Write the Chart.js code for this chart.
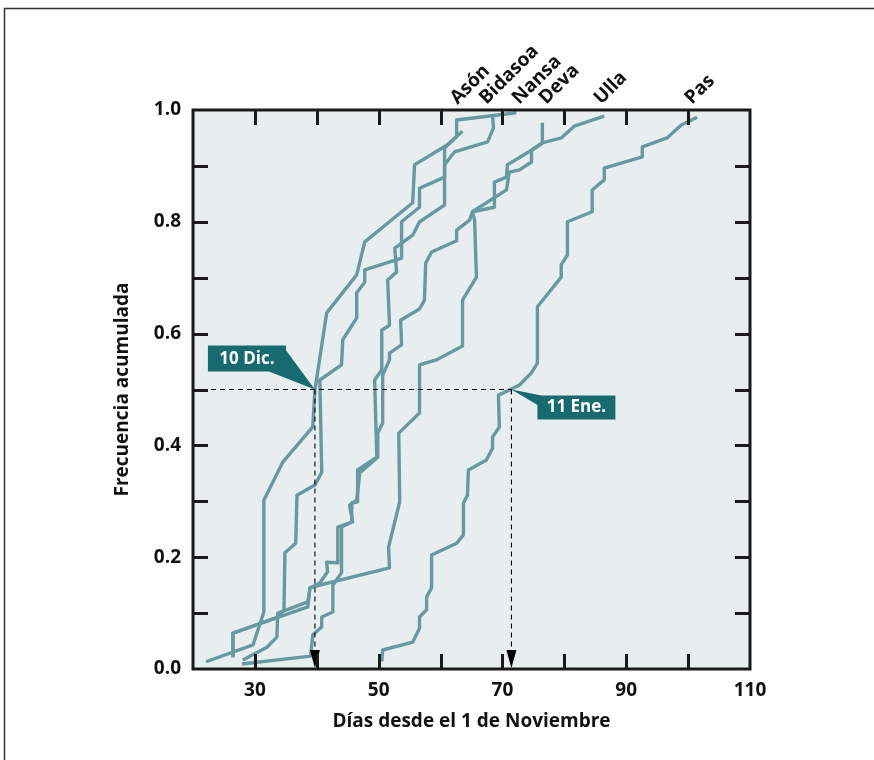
<!DOCTYPE html>
<html><head><meta charset="utf-8">
<script src="https://cdn.jsdelivr.net/npm/chart.js@4.4.1/dist/chart.umd.min.js"></script>
<style>html,body{margin:0;padding:0;background:#fff;}canvas{display:block;}</style>
</head><body>
<canvas id="c" width="874" height="760"></canvas>
<script>
// ---- data ----
const seriesNames = ['Asón','Bidasoa','Nansa','Deva','Ulla','Pas'];
const asonDays = [22.1,29.7,31.45,31.45,34.5,39.35,39.7,41.6,46.45,47.75,55.5,55.8,61.0,63.55];
const asonFreq = [0.013,0.043,0.102,0.302,0.370,0.433,0.499,0.637,0.705,0.764,0.834,0.902,0.937,0.962];
const bidasoaDays = [26.45,26.45,33.7,34.7,34.85,36.6,36.8,39.7,40.8,40.5,44.0,44.2,46.45,46.45,47.75,47.75,53.7,53.7,56.6,56.6,60.65,60.65,62.25,67.6,68.55,68.4];
const bidasoaFreq = [0.021,0.064,0.093,0.106,0.208,0.225,0.311,0.329,0.352,0.517,0.544,0.589,0.628,0.673,0.692,0.714,0.735,0.800,0.826,0.860,0.880,0.902,0.925,0.943,0.968,0.991];
const nansaDays = [27.9,39.0,39.35,40.8,40.8,42.6,42.6,44.0,44.0,45.65,45.65,46.6,46.6,49.7,49.35,50.5,50.5,51.75,51.45,52.9,52.6,55.5,56.6,60.65,60.65,62.6,62.6,72.25];
const nansaFreq = [0.009,0.023,0.061,0.075,0.093,0.102,0.150,0.172,0.254,0.263,0.297,0.299,0.356,0.379,0.517,0.535,0.606,0.615,0.696,0.710,0.753,0.776,0.800,0.830,0.932,0.952,0.982,0.995];
const devaDays = [28.05,31.95,33.55,33.7,38.55,38.9,39.7,51.75,51.6,53.4,53.25,56.6,56.6,59.35,63.55,63.55,65.8,65.5,65.15,68.7,68.7,70.65,70.8,74.7,76.45,76.45];
const devaFreq = [0.016,0.039,0.057,0.100,0.120,0.145,0.148,0.181,0.218,0.299,0.422,0.458,0.544,0.553,0.578,0.660,0.701,0.803,0.818,0.826,0.871,0.880,0.902,0.928,0.941,0.977];
const ullaDays = [26.45,26.45,38.55,38.9,40.5,41.75,41.6,43.4,43.4,45.8,45.3,46.45,46.95,49.85,49.85,50.65,50.65,51.75,51.75,53.7,53.55,56.6,57.4,57.6,58.55,62.6,62.6,64.7,65.15,70.65,71.1,72.75,74.7,74.7,76.45,79.5,81.6,86.45];
const ullaFreq = [0.021,0.064,0.111,0.145,0.154,0.174,0.191,0.190,0.254,0.263,0.293,0.302,0.351,0.379,0.422,0.440,0.526,0.553,0.565,0.580,0.624,0.644,0.660,0.726,0.746,0.766,0.785,0.803,0.818,0.857,0.889,0.893,0.907,0.928,0.941,0.950,0.971,0.989];
const pasDays = [50.5,50.65,55.5,56.6,56.6,57.75,57.75,58.55,58.55,62.6,63.7,63.7,64.35,64.5,67.4,68.4,68.4,69.5,69.35,71.45,72.75,74.7,75.65,75.65,79.5,79.5,80.5,80.5,84.5,84.5,86.45,86.45,92.6,92.6,96.6,98.9,101.45];
const pasFreq = [0.013,0.034,0.048,0.073,0.093,0.106,0.129,0.145,0.204,0.225,0.240,0.297,0.311,0.356,0.374,0.395,0.415,0.433,0.490,0.501,0.508,0.530,0.547,0.648,0.701,0.723,0.741,0.800,0.818,0.857,0.875,0.896,0.916,0.934,0.950,0.973,0.987];
const xTickLabels = [30,50,70,90,110];
const yTickLabels = ['0.0','0.2','0.4','0.6','0.8','1.0'];
const medianFreq = 0.5;
const medianDays = [39.7, 71.45];
const medianLabels = ['10 Dic.','11 Ene.'];
const xTitle = 'Días desde el 1 de Noviembre';
const yTitle = 'Frecuencia acumulada';

// ---- styles ----
const LINE = '#6799a3';
const BG = '#e8eeef';
const BOX = '#186a71';
const INK = '#111';
const FONT = "'Open Sans', 'DejaVu Sans', sans-serif";
const FS = 19;

const allDays = [asonDays,bidasoaDays,nansaDays,devaDays,ullaDays,pasDays];
const allFreq = [asonFreq,bidasoaFreq,nansaFreq,devaFreq,ullaFreq,pasFreq];
const datasets = seriesNames.map((n,i)=>({
  label:n,
  data: allDays[i].map((d,j)=>({x:d,y:allFreq[i][j]})),
  showLine:true, borderColor:LINE, backgroundColor:LINE, borderWidth:3.4,
  pointRadius:0, tension:0, borderJoinStyle:'round', borderCapStyle:'butt'
}));

const deco = {
  id:'deco',
  beforeDraw(chart){
    const {ctx, chartArea:a} = chart;
    ctx.save();
    ctx.fillStyle='#fff'; ctx.fillRect(0,0,chart.width,chart.height);
    ctx.strokeStyle='#333'; ctx.lineWidth=1.5;
    ctx.beginPath(); ctx.moveTo(4.5,chart.height); ctx.lineTo(4.5,8.5); ctx.lineTo(chart.width,8.5); ctx.stroke();
    ctx.fillStyle=BG; ctx.fillRect(a.left,a.top,a.right-a.left,a.bottom-a.top);
    ctx.restore();
  },
  afterDatasetsDraw(chart){
    const {ctx, chartArea:a, scales:{x,y}} = chart;
    ctx.save();
    // dashed median guides
    const py = y.getPixelForValue(medianFreq);
    ctx.strokeStyle='#000'; ctx.lineWidth=1.1; ctx.setLineDash([5,4]);
    const xEnd = x.getPixelForValue(medianDays[medianDays.length-1]);
    ctx.beginPath(); ctx.moveTo(a.left,py); ctx.lineTo(xEnd,py); ctx.stroke();
    medianDays.forEach(d=>{
      const px = x.getPixelForValue(d);
      ctx.beginPath(); ctx.moveTo(px,py); ctx.lineTo(px,a.bottom-16); ctx.stroke();
    });
    ctx.setLineDash([]);
    ctx.fillStyle='#000';
    medianDays.forEach(d=>{
      const px = x.getPixelForValue(d);
      ctx.beginPath(); ctx.moveTo(px-5,a.bottom-19); ctx.lineTo(px+5,a.bottom-19); ctx.lineTo(px,a.bottom-1); ctx.closePath(); ctx.fill();
    });
    // label boxes
    const p1 = {x:x.getPixelForValue(medianDays[0]), y:py};
    const p2 = {x:x.getPixelForValue(medianDays[1]), y:py};
    ctx.fillStyle=BOX;
    ctx.beginPath(); ctx.moveTo(p1.x-31,p1.y-42); ctx.lineTo(p1.x-46,p1.y-18); ctx.lineTo(p1.x,p1.y); ctx.closePath(); ctx.fill();
    ctx.fillRect(p1.x-107,p1.y-44,78,26);
    ctx.beginPath(); ctx.moveTo(p2.x,p2.y); ctx.lineTo(p2.x+30,p2.y+6); ctx.lineTo(p2.x+27,p2.y+16); ctx.closePath(); ctx.fill();
    ctx.fillRect(p2.x+26,p2.y+6,78,24);
    ctx.fillStyle='#fff'; ctx.font='bold 17px '+FONT; ctx.textAlign='center'; ctx.textBaseline='middle';
    ctx.fillText(medianLabels[0], p1.x-68, p1.y-30);
    ctx.fillText(medianLabels[1], p2.x+65, p2.y+18);
    // frame and inward ticks
    ctx.strokeStyle='#1a1a1a'; ctx.lineWidth=3;
    ctx.strokeRect(a.left,a.top,a.right-a.left,a.bottom-a.top);
    x.ticks.forEach(t=>{
      if (t.value<=x.min || t.value>=x.max) return;
      const px = Math.round(x.getPixelForValue(t.value))+0.5;
      ctx.beginPath(); ctx.moveTo(px,a.bottom); ctx.lineTo(px,a.bottom-15);
      ctx.moveTo(px,a.top); ctx.lineTo(px,a.top+15); ctx.stroke();
    });
    y.ticks.forEach(t=>{
      if (t.value<=y.min+1e-9 || t.value>=y.max-1e-9) return;
      const pyy = Math.round(y.getPixelForValue(t.value))+0.5;
      ctx.beginPath(); ctx.moveTo(a.left,pyy); ctx.lineTo(a.left+15,pyy);
      ctx.moveTo(a.right,pyy); ctx.lineTo(a.right-15,pyy); ctx.stroke();
    });
    // series names at line ends
    const nudge = [-5,-6,3,4,-3,-5];
    ctx.fillStyle=INK; ctx.font='bold '+FS+'px '+FONT; ctx.textAlign='left'; ctx.textBaseline='alphabetic';
    chart.data.datasets.forEach((ds,i)=>{
      const last = ds.data[ds.data.length-1];
      const px = x.getPixelForValue(last.x)+nudge[i];
      ctx.save(); ctx.translate(px, a.top-5); ctx.rotate(-Math.PI/4);
      ctx.fillText(ds.label,0,0); ctx.restore();
    });
    ctx.restore();
  }
};

new Chart(document.getElementById('c'), {
  type:'scatter',
  data:{datasets},
  options:{
    responsive:false, animation:false, devicePixelRatio:1,
    layout:{padding:{left:100,top:110,right:124,bottom:21}},
    plugins:{legend:{display:false}, tooltip:{enabled:false}},
    scales:{
      x:{type:'linear', min:20, max:110,
        afterFit(s){ s.height=70; },
        grid:{display:false, drawTicks:false}, border:{display:false},
        ticks:{stepSize:10, padding:10, color:INK, font:{family:FONT, size:FS, weight:'bold'},
          callback:v=> xTickLabels.includes(Math.round(v)) ? String(Math.round(v)) : ''},
        title:{display:true, text:xTitle, color:INK, font:{family:FONT, size:FS, weight:'bold'}, padding:{top:0,bottom:6}}
      },
      y:{type:'linear', min:0, max:1,
        afterFit(s){ s.width=93; },
        grid:{display:false, drawTicks:false}, border:{display:false},
        ticks:{stepSize:0.1, padding:12, color:INK, font:{family:FONT, size:FS, weight:'bold'},
          callback:v=>{ const k=Math.round(v*10); return k%2===0 ? yTickLabels[k/2] : ''; }},
        title:{display:true, text:yTitle, color:INK, font:{family:FONT, size:FS, weight:'bold'}, padding:{top:11,bottom:0}}
      }
    }
  },
  plugins:[deco]
});
</script>
</body></html>
